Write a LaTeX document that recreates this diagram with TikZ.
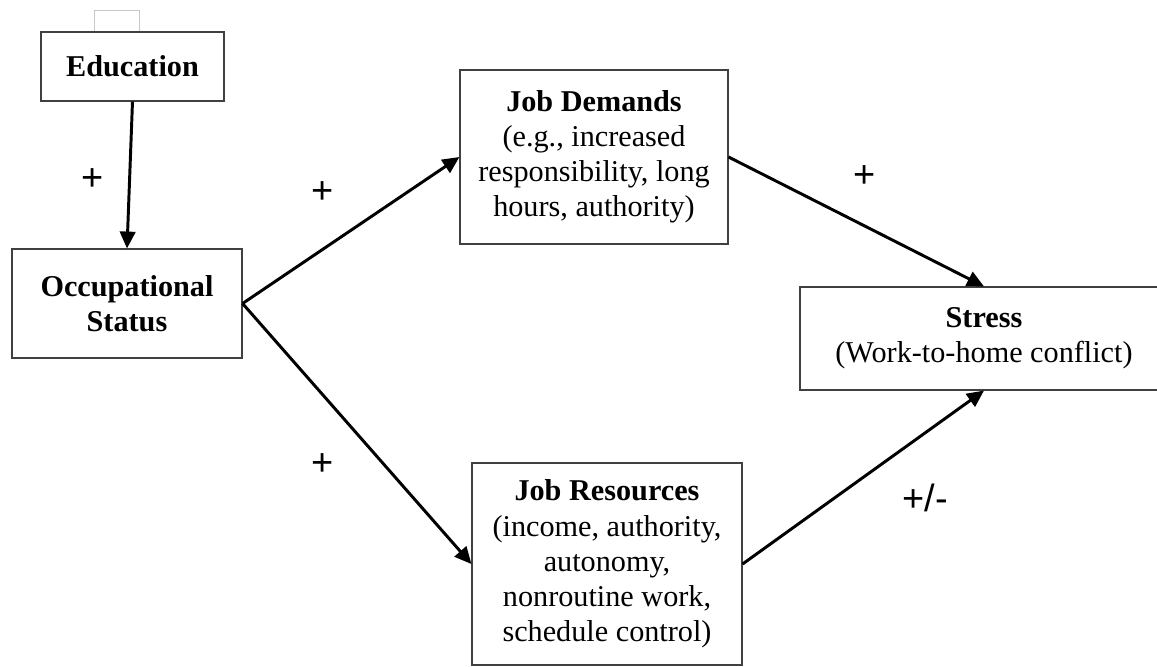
\documentclass[tikz,border=0pt]{standalone}
\usepackage{fontspec}
\setmainfont{Liberation Serif}
\newfontfamily\plusfont{Liberation Sans}
\usetikzlibrary{arrows.meta}
\definecolor{edge}{HTML}{404040}
\definecolor{faint}{HTML}{C8C8C8}
\tikzset{box/.style={draw=edge,line width=0.8pt,align=center,inner sep=0pt,font=\fontsize{21.5}{25}\selectfont},
  arr/.style={line width=2.1pt,-{Triangle[length=12pt,width=11pt]}},
  lbl/.style={font=\plusfont\fontsize{27}{30}\selectfont}}

\begin{document}
\begin{tikzpicture}
\useasboundingbox (0,0) rectangle (28.925,-16.65);
% boxes
\node[draw=faint,line width=0.5pt,minimum width=1.125cm,minimum height=0.55cm] (tab) at (2.9125,-0.525) {};
\node[box,minimum width=4.575cm,minimum height=1.725cm] (edu) at (3.3125,-1.6625) {\textbf{Education}};
\node[box,minimum width=5.75cm,minimum height=2.725cm] (occ) at (3.175,-7.5875) {\textbf{Occupational}\\\textbf{Status}};
\node[box,minimum width=6.7cm,minimum height=4.35cm] (jd) at (14.85,-3.925) {\textbf{Job Demands}\\(e.g., increased\\responsibility, long\\hours, authority)};
\node[box,minimum width=6.75cm,minimum height=5.05cm] (jr) at (15.175,-14.1) {\textbf{Job Resources}\\(income, authority,\\autonomy,\\nonroutine work,\\schedule control)};
\node[box,minimum width=9.2cm,minimum height=2.575cm] (st) at (24.6,-8.4625) {\textbf{Stress}\\(Work-to-home conflict)};
% paths
\draw[arr] (edu.south) -- (occ.north);
\draw[arr] (occ.east) -- (jd.west);
\draw[arr] (occ.east) -- (jr.west);
\draw[arr] (jd.east) -- (st.north);
\draw[arr] (jr.east) -- (st.south);
% signs
\node[lbl] (s1) at (2.325,-4.5) {+};
\node[lbl] (s2) at (8.075,-4.825) {+};
\node[lbl] (s3) at (8.075,-11.625) {+};
\node[lbl] (s4) at (21.625,-4.425) {+};
\node[lbl] (s5) at (23.125,-12.45) {+/-};
\end{tikzpicture}
\end{document}
